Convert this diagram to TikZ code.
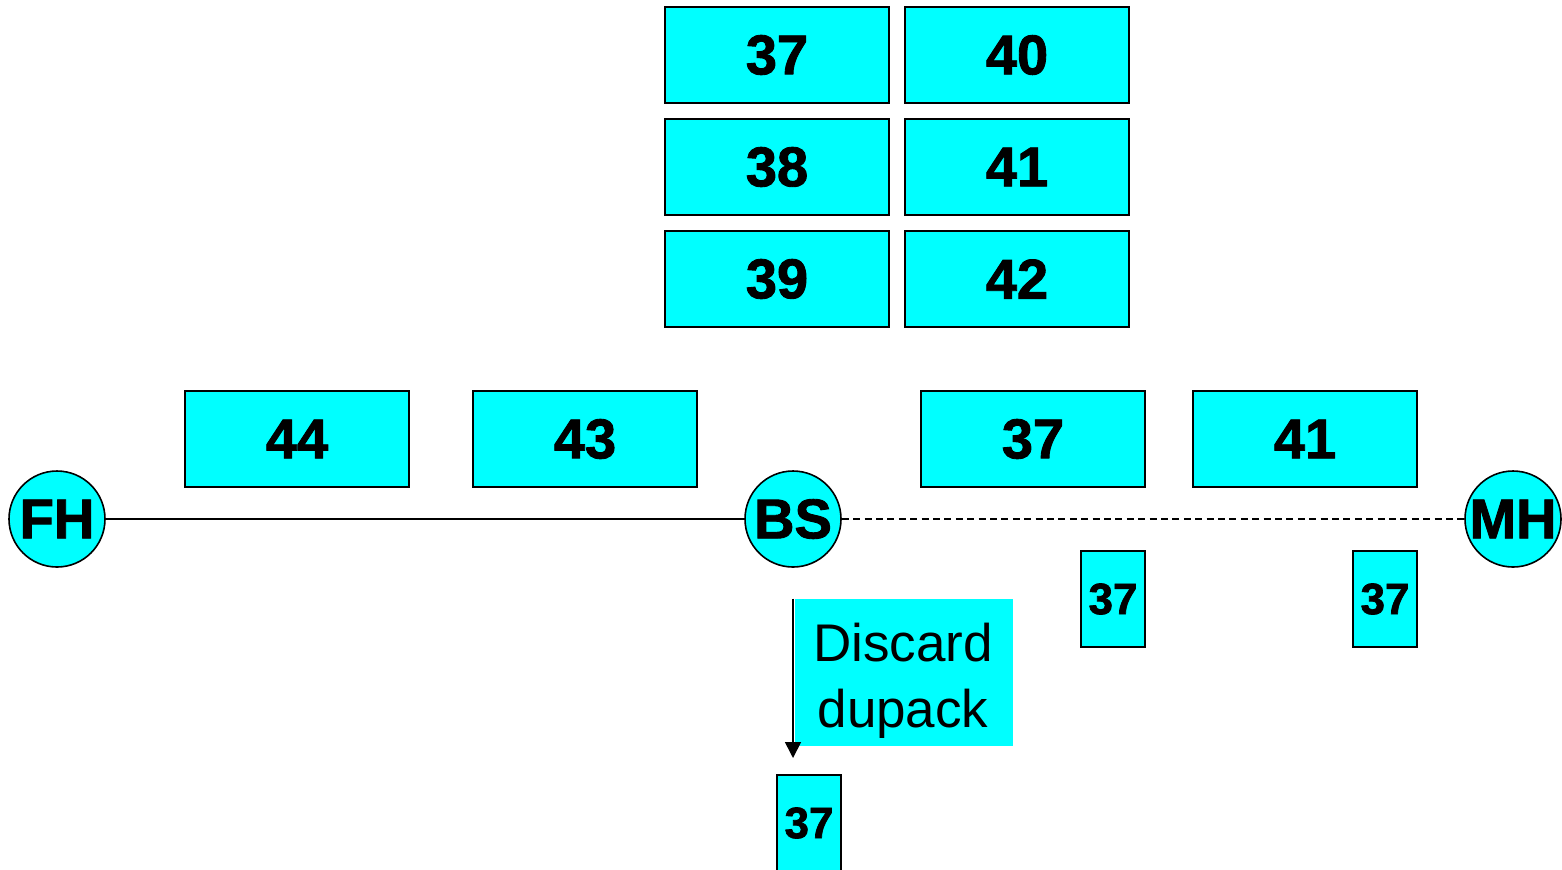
\documentclass[tikz,border=0pt]{standalone}
\usepackage{fontspec}
\setmainfont{Liberation Sans}
\newfontfamily\heavyfont[FakeBold=1.6]{Liberation Sans Bold}
\usetikzlibrary{arrows.meta}
\definecolor{pktcyan}{RGB}{0,255,255}
\tikzset{
  pkt/.style={draw=black, line width=1pt, fill=pktcyan, minimum width=112pt, minimum height=48pt,
    inner sep=0pt, font=\fontsize{28}{32}\heavyfont},
  smallpkt/.style={draw=black, line width=1pt, fill=pktcyan, minimum width=32pt, minimum height=48pt,
    inner sep=0pt, font=\fontsize{22}{26}\heavyfont},
  host/.style={circle, draw=black, line width=0.8pt, fill=pktcyan, minimum size=48pt, inner sep=0pt,
    font=\fontsize{28}{32}\heavyfont},
  note/.style={fill=pktcyan, minimum width=109pt, minimum height=73.5pt, inner sep=0pt},
  notetext/.style={inner sep=0pt, align=center, font=\fontsize{26.5}{33}\selectfont},
  link/.style={line width=0.8pt},
}
\begin{document}
\begin{tikzpicture}[x=0.5pt,y=-0.5pt]
\useasboundingbox[fill=white] (0,0) rectangle (1562,869);
\clip (0,0) rectangle (1562,869);
% send window held at the base station
\node[pkt] (w37) at (777,55) {37};
\node[pkt] (w38) at (777,167) {38};
\node[pkt] (w39) at (777,279) {39};
\node[pkt] (w40) at (1017,55) {40};
\node[pkt] (w41) at (1017,167) {41};
\node[pkt] (w42) at (1017,279) {42};
% packets in flight on the wired and wireless links
\node[pkt] (p44) at (297,439) {44};
\node[pkt] (p43) at (585,439) {43};
\node[pkt] (p37) at (1033,439) {37};
\node[pkt] (p41) at (1305,439) {41};
% hosts
\node[host] (fh) at (57,519) {FH};
\node[host] (bs) at (793,519) {BS};
\node[host] (mh) at (1513,519) {MH};
\draw[link] (fh) -- (bs);
\draw[link, dash pattern=on 3.5pt off 2.2pt] (bs) -- (mh);
% acknowledgements
\node[smallpkt] (a1) at (1113,599) {37};
\node[smallpkt] (a2) at (1385,599) {37};
\node[smallpkt] (a3) at (809,823) {37};
% duplicate ack dropped at the base station
\node[note] (disc) at (904,672.5) {};
\node[notetext] (disctext) at (903,681) {Discard\\dupack};
\coordinate (dropend) at (793,758);
\draw[link, -{Triangle[length=8pt,width=8pt]}] (disc.north west -| bs) -- (dropend);
\end{tikzpicture}
\end{document}
